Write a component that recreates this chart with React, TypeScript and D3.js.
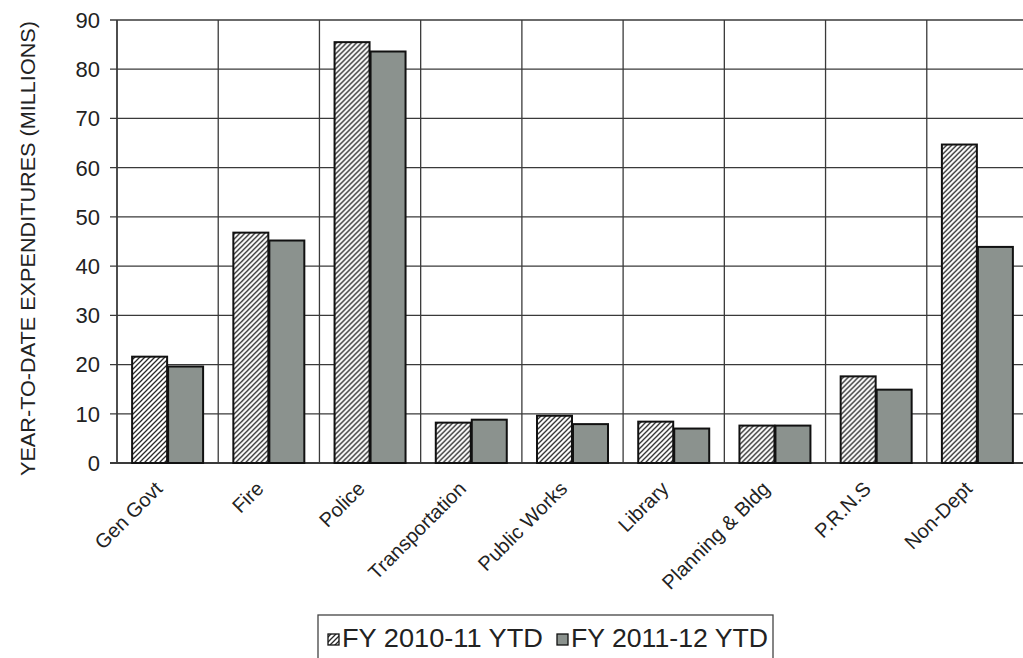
import React from 'react';
import * as d3 from 'd3';

// Departments along the x axis
const categories = [
  'Gen Govt',
  'Fire',
  'Police',
  'Transportation',
  'Public Works',
  'Library',
  'Planning & Bldg',
  'P.R.N.S',
  'Non-Dept',
];

// Year-to-date expenditures, millions
const fy2010_11 = [21.6, 46.8, 85.5, 8.2, 9.6, 8.4, 7.6, 17.6, 64.7];
const fy2011_12 = [19.6, 45.2, 83.6, 8.8, 7.9, 7.0, 7.6, 14.9, 43.9];

const seriesNames = ['FY 2010-11 YTD', 'FY 2011-12 YTD'];
const yTicks = [0, 10, 20, 30, 40, 50, 60, 70, 80, 90];

const W = 1023;
const H = 658;
const FONT = '"Liberation Sans", Arial, Helvetica, sans-serif';
const GRAY = '#8b928e';
const INK = '#222';

export default function App() {
  const plotLeft = 117;
  const plotRight = 1028;
  const plotTop = 20;
  const plotBottom = 463;

  const x0 = d3.scaleBand<string>().domain(categories).range([plotLeft, plotRight]).padding(0);
  const x1 = d3
    .scaleBand<string>()
    .domain(seriesNames)
    .range([0, x0.bandwidth()])
    .paddingInner(0.028)
    .paddingOuter(0.42);
  const y = d3.scaleLinear().domain([0, 90]).range([plotBottom, plotTop]);

  const seriesValues = [fy2010_11, fy2011_12];
  const fills = ['url(#hatch)', GRAY];

  const boundaries = categories.map((c) => x0(c) as number).concat([plotRight]);

  return (
    <div style={{ position: 'fixed', left: 0, top: 0, width: W, height: H, background: '#fff' }}>
      <svg width={W} height={H} viewBox={`0 0 ${W} ${H}`} style={{ display: 'block' }}>
        <defs>
          <pattern id="hatch" patternUnits="userSpaceOnUse" width={5} height={5}>
            <rect width={5} height={5} fill="#fff" />
            <path d="M-1,1 l2,-2 M0,5 l5,-5 M4,6 l2,-2" stroke="#2a2a2a" strokeWidth={1.3} />
          </pattern>
        </defs>
        <rect width={W} height={H} fill="#fff" />

        {/* horizontal gridlines and ticks */}
        {yTicks.map((t) => (
          <line
            key={'h' + t}
            x1={plotLeft - 7}
            x2={plotRight}
            y1={y(t)}
            y2={y(t)}
            stroke="#3a3a3a"
            strokeWidth={t === 0 ? 2 : 1.3}
          />
        ))}
        {/* vertical category dividers */}
        {boundaries.map((bx, i) => (
          <line
            key={'v' + i}
            x1={bx}
            x2={bx}
            y1={plotTop}
            y2={plotBottom}
            stroke="#3a3a3a"
            strokeWidth={i === 0 ? 1.8 : 1.3}
          />
        ))}

        {/* bars */}
        {categories.map((c, i) => (
          <g key={c} transform={`translate(${x0(c)},0)`}>
            {seriesNames.map((s, k) => {
              const v = seriesValues[k][i];
              return (
                <rect
                  key={s}
                  x={x1(s)}
                  y={y(v)}
                  width={x1.bandwidth()}
                  height={y(0) - y(v)}
                  fill={fills[k]}
                  stroke="#111"
                  strokeWidth={2}
                />
              );
            })}
          </g>
        ))}

        {/* y tick labels */}
        {yTicks.map((t) => (
          <text
            key={'yl' + t}
            x={100}
            y={y(t)}
            dy="0.36em"
            textAnchor="end"
            fontFamily={FONT}
            fontSize={22}
            fill={INK}
          >
            {t}
          </text>
        ))}

        {/* y axis title */}
        <text
          transform={`translate(35,${(20 + 477) / 2}) rotate(-90)`}
          textAnchor="middle"
          fontFamily={FONT}
          fontSize={20}
          fill={INK}
          textLength={455}
          lengthAdjust="spacingAndGlyphs"
        >
          YEAR-TO-DATE EXPENDITURES (MILLIONS)
        </text>

        {/* category labels */}
        {categories.map((c) => {
          const cx = (x0(c) as number) + x0.bandwidth() / 2 - 4;
          return (
            <text
              key={'xl' + c}
              transform={`translate(${cx},490) rotate(-45)`}
              textAnchor="end"
              fontFamily={FONT}
              fontSize={20}
              fill={INK}
            >
              {c}
            </text>
          );
        })}

        {/* legend */}
        <g>
          <rect x={318} y={615} width={455} height={60} fill="#fff" stroke="#444" strokeWidth={1.3} />
          <rect x={328} y={634} width={11} height={11} fill="url(#hatch)" stroke="#111" strokeWidth={1.3} />
          <text x={342} y={647} fontFamily={FONT} fontSize={26} fill={INK} textLength={201} lengthAdjust="spacingAndGlyphs">
            {seriesNames[0]}
          </text>
          <rect x={557} y={634} width={11} height={11} fill={GRAY} stroke="#111" strokeWidth={1.3} />
          <text x={571} y={647} fontFamily={FONT} fontSize={26} fill={INK} textLength={197} lengthAdjust="spacingAndGlyphs">
            {seriesNames[1]}
          </text>
        </g>
      </svg>
    </div>
  );
}
